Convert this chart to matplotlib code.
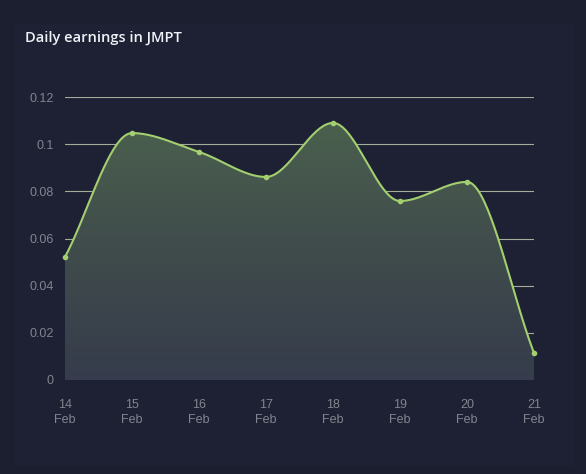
import numpy as np
import matplotlib
matplotlib.use("Agg")
import matplotlib.pyplot as plt
from matplotlib.colors import LinearSegmentedColormap

days = ["14", "15", "16", "17", "18", "19", "20", "21"]
month = "Feb"
earnings = [0.0522, 0.1047, 0.0967, 0.0861, 0.1090, 0.0759, 0.0840, 0.0115]
y_ticks = [0, 0.02, 0.04, 0.06, 0.08, 0.1, 0.12]
y_tick_labels = ["0", "0.02", "0.04", "0.06", "0.08", "0.1", "0.12"]
title = "Daily earnings in JMPT"


def monotone_cubic(x, y, n=40):
    x = np.asarray(x, float); y = np.asarray(y, float)
    h = np.diff(x); d = np.diff(y) / h
    m = np.zeros_like(y)
    m[0] = d[0]; m[-1] = d[-1]
    for i in range(1, len(y) - 1):
        if d[i - 1] * d[i] <= 0:
            m[i] = 0
        else:
            w1 = 2 * h[i] + h[i - 1]; w2 = h[i] + 2 * h[i - 1]
            m[i] = (w1 + w2) / (w1 / d[i - 1] + w2 / d[i])
    xs, ys = [], []
    for i in range(len(x) - 1):
        t = np.linspace(0, 1, n, endpoint=(i == len(x) - 2))
        h00 = 2 * t**3 - 3 * t**2 + 1; h10 = t**3 - 2 * t**2 + t
        h01 = -2 * t**3 + 3 * t**2; h11 = t**3 - t**2
        xs.append(x[i] + t * h[i])
        ys.append(h00 * y[i] + h10 * h[i] * m[i] + h01 * y[i + 1] + h11 * h[i] * m[i + 1])
    return np.concatenate(xs), np.concatenate(ys)


W, H = 586, 474
fig = plt.figure(figsize=(W / 100, H / 100), dpi=100)
fig.patch.set_facecolor("#1b1f30")

# card
card = fig.add_axes([0, 0, 1, 1], zorder=0)
card.set_xlim(0, W); card.set_ylim(H, 0); card.axis("off")
card.add_patch(plt.Rectangle((14, 24), 560, 442, color="#1d2133", lw=0))

ax = fig.add_axes([65 / W, (H - 380) / H, (534 - 65) / W, (380 - 97) / H], zorder=1)
ax.set_facecolor("none")
x = np.arange(len(earnings))

for yt in y_ticks:
    ax.axhline(yt, color="#a4ad98", lw=0.8, zorder=1)

xs, ys = monotone_cubic(x, earnings)
poly = ax.fill_between(xs, ys, 0, color="none", lw=0, zorder=2)
cmap = LinearSegmentedColormap.from_list("g", ["#363c4b", "#404c4c", "#4b614e"])
grad = np.linspace(0, 1, 256).reshape(-1, 1)
im = ax.imshow(grad, extent=[0, len(earnings) - 1, 0, 0.112], origin="lower",
               aspect="auto", cmap=cmap, zorder=2)
path = poly.get_paths()[0]
im.set_clip_path(path, transform=ax.transData)
ax.set_ylim(0, 0.12)
ax.set_xlim(0, len(earnings) - 1)

ax.plot(xs, ys, color="#a3cf6f", lw=1.5, zorder=3, clip_on=False, solid_capstyle="round")
ax.plot(x, earnings, "o", color="#a3cf6f", ms=3, zorder=4, clip_on=False)

for s in ax.spines.values():
    s.set_visible(False)
ax.set_yticks(y_ticks)
ax.set_yticklabels(y_tick_labels)
ax.set_xticks(x)
ax.set_xticklabels([f"{d}\n{month}" for d in days])
ax.tick_params(length=0, labelsize=9)
ax.tick_params(axis="x", pad=14)
ax.tick_params(axis="y", pad=8)
for lab in ax.get_xticklabels() + ax.get_yticklabels():
    lab.set_family("Liberation Sans")
    lab.set_color("#80858f")
for lab in ax.get_xticklabels():
    lab.set_linespacing(1.25)

fig.text(25 / W, 1 - 38 / H, title, color="#eef3f8", fontsize=10.5,
         fontweight="semibold", family="Open Sans", va="center", ha="left")

fig.savefig("out.png", dpi=100, facecolor=fig.get_facecolor())
